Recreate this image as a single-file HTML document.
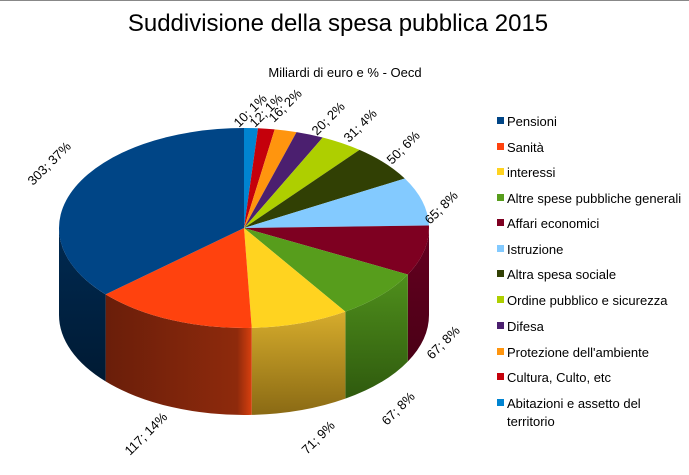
<!DOCTYPE html>
<html><head><meta charset="utf-8"><style>
html,body{margin:0;padding:0;background:#fff;}
body{width:689px;height:470px;overflow:hidden;position:relative;font-family:"Liberation Sans",Arial,sans-serif;}
</style></head><body>
<svg id="s" width="689" height="470" xmlns="http://www.w3.org/2000/svg" font-family="Liberation Sans, Arial, sans-serif">
<defs>
<linearGradient id="gB" x1="0" y1="0" x2="0" y2="1"><stop offset="0" stop-color="#002a52"/><stop offset="1" stop-color="#001a33"/></linearGradient>
<linearGradient id="gO" x1="0" y1="0" x2="1" y2="0"><stop offset="0" stop-color="#6a1e0a"/><stop offset="0.9" stop-color="#8e2a0c"/><stop offset="1" stop-color="#d8400e"/></linearGradient>
<linearGradient id="gY" x1="0" y1="0" x2="0" y2="1"><stop offset="0" stop-color="#d6ac2c"/><stop offset="1" stop-color="#8a6a14"/></linearGradient>
<linearGradient id="gG" x1="0" y1="0" x2="0" y2="1"><stop offset="0" stop-color="#4f8f1c"/><stop offset="1" stop-color="#2f5a0e"/></linearGradient>
<linearGradient id="gR" x1="0" y1="0" x2="0" y2="1"><stop offset="0" stop-color="#660020"/><stop offset="1" stop-color="#4a0016"/></linearGradient>
</defs>
<line x1="0" y1="0.5" x2="689" y2="0.5" stroke="#888" stroke-width="1"/>
<text x="338" y="31" font-size="24" text-anchor="middle" fill="#000">Suddivisione della spesa pubblica 2015</text>
<text x="345" y="77" font-size="13" text-anchor="middle" fill="#000">Miliardi di euro e % - Oecd</text>
<g id="pie"></g>
<g font-size="13" fill="#000">
<text transform="translate(33,186) rotate(-45)">303; 37%</text>
<text transform="translate(130,456) rotate(-45)">117; 14%</text>
<text transform="translate(307,455) rotate(-45)">71; 9%</text>
<text transform="translate(387,426) rotate(-45)">67; 8%</text>
<text transform="translate(432,360) rotate(-45)">67; 8%</text>
<text transform="translate(430,225) rotate(-45)">65; 8%</text>
<text transform="translate(392,165) rotate(-45)">50; 6%</text>
<text transform="translate(349,143) rotate(-45)">31; 4%</text>
<text transform="translate(317,136) rotate(-45)">20; 2%</text>
<text transform="translate(274,123) rotate(-45)">16; 2%</text>
<text transform="translate(255,128) rotate(-45)">12; 1%</text>
<text transform="translate(239,128) rotate(-45)">10; 1%</text>
</g>
<g font-size="13" fill="#000">
<rect x="497" y="117" width="7" height="7" fill="#004586"/><text x="507" y="126">Pensioni</text>
<rect x="497" y="143" width="7" height="7" fill="#ff420e"/><text x="507" y="152">Sanità</text>
<rect x="497" y="168" width="7" height="7" fill="#ffd320"/><text x="507" y="177">interessi</text>
<rect x="497" y="194" width="7" height="7" fill="#579d1c"/><text x="507" y="203">Altre spese pubbliche generali</text>
<rect x="497" y="219" width="7" height="7" fill="#7e0021"/><text x="507" y="228">Affari economici</text>
<rect x="497" y="245" width="7" height="7" fill="#83caff"/><text x="507" y="254">Istruzione</text>
<rect x="497" y="270" width="7" height="7" fill="#314004"/><text x="507" y="279">Altra spesa sociale</text>
<rect x="497" y="296" width="7" height="7" fill="#aecf00"/><text x="507" y="305">Ordine pubblico e sicurezza</text>
<rect x="497" y="322" width="7" height="7" fill="#4b1f6f"/><text x="507" y="331">Difesa</text>
<rect x="497" y="348" width="7" height="7" fill="#ff950e"/><text x="507" y="357">Protezione dell'ambiente</text>
<rect x="497" y="373" width="7" height="7" fill="#c5000b"/><text x="507" y="382">Cultura, Culto, etc</text>
<rect x="497" y="399" width="7" height="7" fill="#0084d1"/><text x="507" y="408">Abitazioni e assetto del</text>
<text x="507" y="426">territorio</text>
</g>
</svg>
<script>
(function(){
var cx=244,cy=228,rx=185,ry=100,d=87;
var data=[[10,"#0084d1",null],[12,"#c5000b",null],[16,"#ff950e",null],[20,"#4b1f6f",null],[31,"#aecf00",null],[50,"#314004",null],[65,"#83caff",null],[67,"#7e0021","url(#gR)"],[67,"#579d1c","url(#gG)"],[71,"#ffd320","url(#gY)"],[117,"#ff420e","url(#gO)"],[303,"#004586","url(#gB)"]];
var tot=0;data.forEach(function(e){tot+=e[0];});
function P(t,dy){var r=t*Math.PI/180;return [(cx+rx*Math.sin(r)).toFixed(2),(cy-ry*Math.cos(r)+(dy||0)).toFixed(2)];}
var g=document.getElementById('pie'),ns="http://www.w3.org/2000/svg",walls="",tops="",c=0;
data.forEach(function(e){
 var a=c/tot*360,b=(c+e[0])/tot*360;c+=e[0];
 var lg=(b-a)>180?1:0,pa=P(a),pb=P(b);
 tops+='<path d="M'+cx+','+cy+' L'+pa+' A'+rx+','+ry+' 0 '+lg+' 1 '+pb+' Z" fill="'+e[1]+'"/>';
 var wa=Math.max(a,90),wb=Math.min(b,270);
 if(wb>wa){var q1=P(wa),q2=P(wb),q3=P(wb,d),q4=P(wa,d);
  walls+='<path d="M'+q1+' A'+rx+','+ry+' 0 0 1 '+q2+' L'+q3+' A'+rx+','+ry+' 0 0 0 '+q4+' Z" fill="'+(e[2]||e[1])+'"/>';}
});
g.innerHTML=walls+tops;
})();
</script>
</body></html>
